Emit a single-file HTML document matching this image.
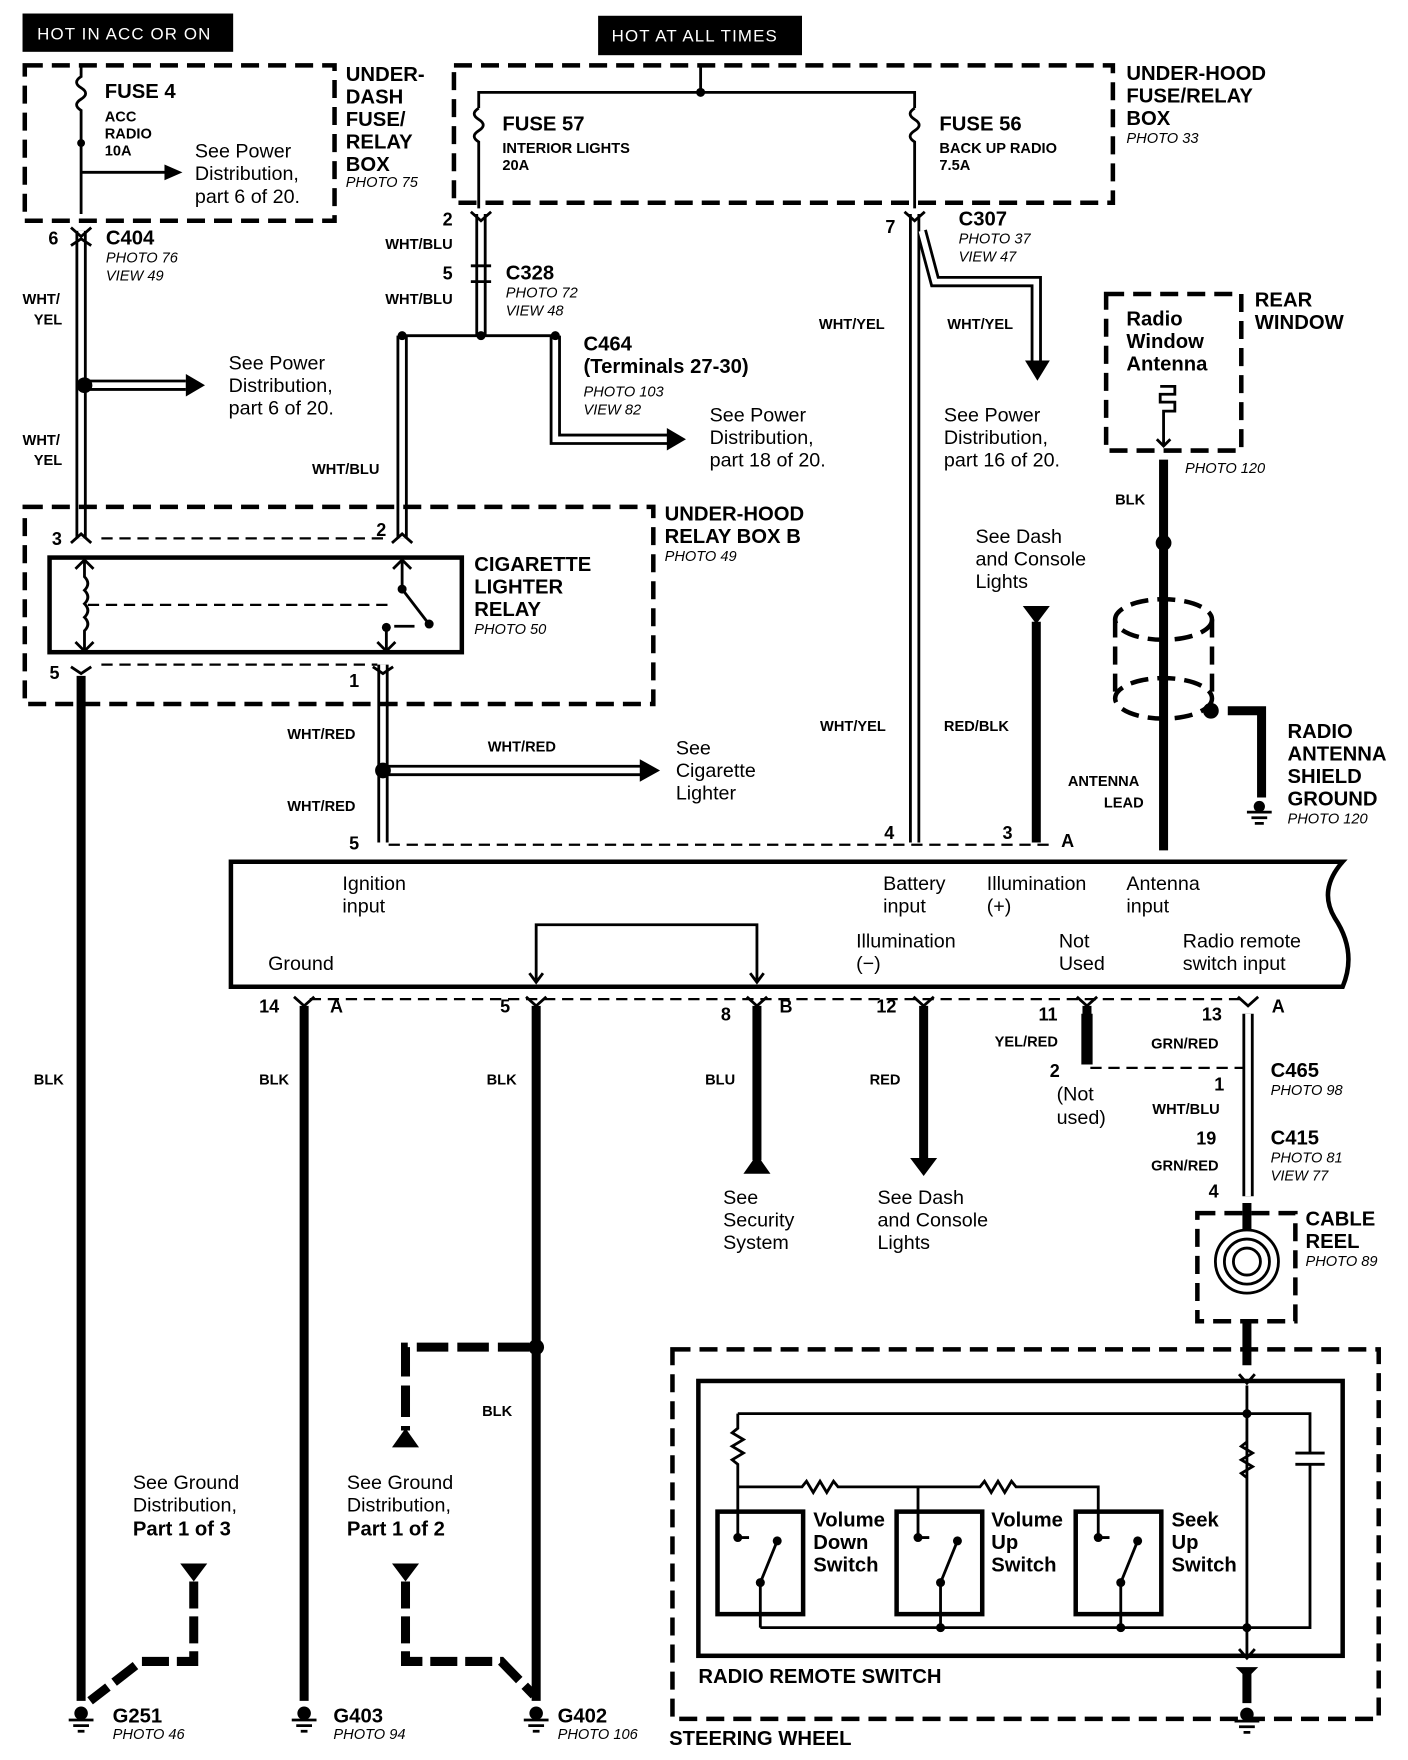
<!DOCTYPE html>
<html><head><meta charset="utf-8"><style>
html,body{margin:0;padding:0;background:#fff;width:1408px;height:1760px;overflow:hidden}
svg{display:block}
text{font-family:"Liberation Sans",sans-serif;fill:#000}
.h{font-weight:bold;font-size:18px}
.s{font-size:17.5px}
.w{font-weight:bold;font-size:13px}
.p{font-style:italic;font-size:13px}
.n{font-weight:bold;font-size:16px}
.sm{font-weight:bold;font-size:13px}
.dash{fill:none;stroke:#000;stroke-width:4;stroke-dasharray:16 8}
.dl{fill:none;stroke:#000;stroke-width:2;stroke-dasharray:10 6}
.wo{fill:none;stroke:#000;stroke-width:10}
.wi{fill:none;stroke:#fff;stroke-width:5}
.tk{fill:none;stroke:#000;stroke-width:8}
.ln{fill:none;stroke:#000;stroke-width:2.5}
.bx{fill:none;stroke:#000;stroke-width:4}
</style></head><body>
<svg width="1408" height="1760" viewBox="0 0 1250 1562.5" xmlns="http://www.w3.org/2000/svg">
<!-- header boxes -->
<rect x="20" y="12" width="187" height="34" fill="#000"/>
<text x="33" y="35" style="fill:#fff;font-size:15px;letter-spacing:1px">HOT IN ACC OR ON</text>
<rect x="531" y="14" width="181" height="35" fill="#000"/>
<text x="543" y="37" style="fill:#fff;font-size:15px;letter-spacing:1px">HOT AT ALL TIMES</text>

<!-- under-dash box -->
<rect x="22" y="58" width="275" height="138" class="dash"/>
<text class="h"><tspan x="307" y="72">UNDER-</tspan><tspan x="307" y="92">DASH</tspan><tspan x="307" y="112">FUSE/</tspan><tspan x="307" y="132">RELAY</tspan><tspan x="307" y="152">BOX</tspan></text>
<text class="p" x="307" y="166">PHOTO 75</text>
<path class="ln" d="M72 58V68 q-8 5 0 10 q8 5 0 10 q-8 5 0 10 V190"/>
<circle cx="72" cy="127" r="3.5"/>
<path class="ln" d="M72 153H148"/><path d="M146 146L162 153L146 160Z"/>
<text class="h" x="93" y="87">FUSE 4</text>
<text class="sm"><tspan x="93" y="108">ACC</tspan><tspan x="93" y="123">RADIO</tspan><tspan x="93" y="138">10A</tspan></text>
<text class="s"><tspan x="173" y="140">See Power</tspan><tspan x="173" y="160">Distribution,</tspan><tspan x="173" y="180">part 6 of 20.</tspan></text>

<!-- under-hood fuse box -->
<rect x="403" y="58" width="585" height="122" class="dash"/>
<path class="ln" d="M622 58V82M425 96V82H812V96"/>
<circle cx="622" cy="82" r="4"/>
<path class="ln" d="M425 96q-8 5 0 10q8 5 0 10q-8 5 0 10V185M812 96q-8 5 0 10q8 5 0 10q-8 5 0 10V185"/>
<text class="h" x="446" y="116">FUSE 57</text>
<text class="sm"><tspan x="446" y="136">INTERIOR LIGHTS</tspan><tspan x="446" y="151">20A</tspan></text>
<text class="h" x="834" y="116">FUSE 56</text>
<text class="sm"><tspan x="834" y="136">BACK UP RADIO</tspan><tspan x="834" y="151">7.5A</tspan></text>
<text class="h"><tspan x="1000" y="71">UNDER-HOOD</tspan><tspan x="1000" y="91">FUSE/RELAY</tspan><tspan x="1000" y="111">BOX</tspan></text>
<text class="p" x="1000" y="127">PHOTO 33</text>

<!-- connectors labels -->
<text class="n" x="43" y="217">6</text>
<text class="h" x="94" y="217">C404</text>
<text class="p"><tspan x="94" y="233">PHOTO 76</tspan><tspan x="94" y="249">VIEW 49</tspan></text>
<text class="n" x="393" y="200">2</text>
<text class="w" x="342" y="221">WHT/BLU</text>
<text class="n" x="393" y="248">5</text>
<text class="h" x="449" y="248">C328</text>
<text class="p"><tspan x="449" y="264">PHOTO 72</tspan><tspan x="449" y="280">VIEW 48</tspan></text>
<text class="w" x="342" y="270">WHT/BLU</text>

<!-- wires double -->
<g>
<path class="wo" d="M72 205V478"/><path class="wo" d="M427 190V298"/>
<path class="wo" d="M357 298V478"/><path class="wo" d="M493 298V390H595"/>
<path class="wo" d="M812 190V748"/><path class="wo" d="M818 205L830 250H920V320"/>
<path class="wo" d="M340 590V748"/><path class="wo" d="M340 684H570"/>
<path class="wo" d="M75 342H165"/>
<path class="wo" d="M1108 900V1062"/>
<path class="wo" d="M965 900V945"/>
</g>
<g>
<path class="wi" d="M72 205V478"/><path class="wi" d="M427 190V298"/>
<path class="wi" d="M357 298V478"/><path class="wi" d="M493 298V390H595"/>
<path class="wi" d="M812 190V748"/><path class="wi" d="M818 205L830 250H920V320"/>
<path class="wi" d="M340 590V748"/><path class="wi" d="M340 684H570"/>
<path class="wi" d="M75 342H165"/>
<path class="wi" d="M1108 900V1062"/>
</g>
<path class="ln" d="M357 298H493"/>
<circle cx="357" cy="298" r="4"/><circle cx="427" cy="298" r="4"/><circle cx="493" cy="298" r="4"/>
<circle cx="75" cy="342" r="7"/><circle cx="340" cy="684" r="7"/>
<path d="M165 332L182 342L165 352Z"/><path d="M592 380L609 390L592 400Z"/><path d="M568 674L586 684L568 694Z"/>
<path d="M910 320L932 320L921 338Z"/>
<!-- connector marks -->
<g class="ln" stroke-width="3">
<path d="M63 202L72 210L81 202M63 218L72 212L81 218"/>
<path d="M418 188L427 196L436 188M803 188L812 196L821 188"/>
<path d="M418 236L436 236M418 250L436 250"/>
</g>

<text class="w"><tspan x="20" y="270">WHT/</tspan><tspan x="30" y="288">YEL</tspan><tspan x="20" y="395">WHT/</tspan><tspan x="30" y="413">YEL</tspan></text>
<text class="s"><tspan x="203" y="328">See Power</tspan><tspan x="203" y="348">Distribution,</tspan><tspan x="203" y="368">part 6 of 20.</tspan></text>
<text class="h" x="518" y="311">C464</text>
<text class="h" x="518" y="331">(Terminals 27-30)</text>
<text class="p"><tspan x="518" y="352">PHOTO 103</tspan><tspan x="518" y="368">VIEW 82</tspan></text>
<text class="s"><tspan x="630" y="374">See Power</tspan><tspan x="630" y="394">Distribution,</tspan><tspan x="630" y="414">part 18 of 20.</tspan></text>
<text class="w" x="277" y="421">WHT/BLU</text>
<text class="n" x="786" y="207">7</text>
<text class="h" x="851" y="200">C307</text>
<text class="p"><tspan x="851" y="216">PHOTO 37</tspan><tspan x="851" y="232">VIEW 47</tspan></text>
<text class="w" x="727" y="292">WHT/YEL</text><text class="w" x="841" y="292">WHT/YEL</text>
<text class="s"><tspan x="838" y="374">See Power</tspan><tspan x="838" y="394">Distribution,</tspan><tspan x="838" y="414">part 16 of 20.</tspan></text>

<!-- relay box B -->
<rect x="22" y="450" width="558" height="175" class="dash"/>
<text class="h"><tspan x="590" y="462">UNDER-HOOD</tspan><tspan x="590" y="482">RELAY BOX B</tspan></text>
<text class="p" x="590" y="498">PHOTO 49</text>
<rect x="44" y="495" width="366" height="84" class="bx"/>
<path class="dl" d="M90 478H340M90 590H335"/>
<text class="h"><tspan x="421" y="507">CIGARETTE</tspan><tspan x="421" y="527">LIGHTER</tspan><tspan x="421" y="547">RELAY</tspan></text>
<text class="p" x="421" y="563">PHOTO 50</text>
<path class="ln" d="M75 497V512q6 6 0 12q6 6 0 12q6 6 0 12q6 6 0 12V577"/>
<path class="ln" d="M67 505L75 497L83 505M67 570L75 578L83 570"/>
<path class="dl" d="M78 537H350"/>
<path class="ln" d="M357 497V523L380 553M343 577V558M349 505L357 497L365 505M335 570L343 578L351 570"/>
<circle cx="357" cy="523" r="4"/><circle cx="381" cy="554" r="4"/><circle cx="343" cy="557" r="4"/>
<path class="ln" d="M350 556H368"/>
<text class="n" x="46" y="484">3</text><text class="n" x="334" y="476">2</text>
<text class="n" x="44" y="603">5</text><text class="n" x="310" y="610">1</text>
<path class="ln" stroke-width="3" d="M63 482L72 474L81 482M348 482L357 474L366 482M63 592L72 598L81 592M331 592L340 598L349 592"/>

<!-- left BLK wire -->
<path class="tk" d="M72 600V1510"/>
<text class="w" x="255" y="656">WHT/RED</text><text class="w" x="433" y="667">WHT/RED</text><text class="w" x="255" y="720">WHT/RED</text>
<text class="s"><tspan x="600" y="670">See</tspan><tspan x="600" y="690">Cigarette</tspan><tspan x="600" y="710">Lighter</tspan></text>
<text class="n" x="310" y="754">5</text>
<text class="w" x="728" y="649">WHT/YEL</text>
<text class="n" x="785" y="745">4</text>

<!-- RED/BLK -->
<path class="tk" d="M920 552V748"/>
<path d="M908 538H932L920 554Z"/>
<text class="s"><tspan x="866" y="482">See Dash</tspan><tspan x="866" y="502">and Console</tspan><tspan x="866" y="522">Lights</tspan></text>
<text class="w" x="838" y="649">RED/BLK</text>
<text class="n" x="890" y="745">3</text><text class="n" x="942" y="752">A</text>
<path class="dl" d="M345 750H935"/>

<!-- rear window antenna -->
<rect x="982" y="261" width="120" height="139" class="dash"/>
<text class="h"><tspan x="1000" y="289">Radio</tspan><tspan x="1000" y="309">Window</tspan><tspan x="1000" y="329">Antenna</tspan></text>
<text class="h"><tspan x="1114" y="272">REAR</tspan><tspan x="1114" y="292">WINDOW</tspan></text>
<path class="ln" d="M1033 395V365H1043V357H1030V350H1043V343H1030"/>
<path class="ln" d="M1027 390L1033 396L1039 390"/>
<text class="p" x="1052" y="420">PHOTO 120</text>
<path class="tk" d="M1033 408V755"/>
<text class="w" x="990" y="448">BLK</text>
<circle cx="1033" cy="482" r="7"/>
<ellipse cx="1033" cy="550" rx="43" ry="18" class="dash" stroke-width="3"/>
<ellipse cx="1033" cy="620" rx="43" ry="18" class="dash" stroke-width="3"/>
<path class="dash" stroke-width="3" d="M990 550V620M1076 550V620"/>
<circle cx="1075" cy="631" r="7"/>
<path class="tk" d="M1090 631H1120V708"/>
<g stroke="#000" stroke-width="2.5"><path d="M1107 721H1129M1111 726H1125M1114 731H1122"/></g>
<circle cx="1118" cy="716" r="5"/>
<text class="h"><tspan x="1143" y="655">RADIO</tspan><tspan x="1143" y="675">ANTENNA</tspan><tspan x="1143" y="695">SHIELD</tspan><tspan x="1143" y="715">GROUND</tspan></text>
<text class="p" x="1143" y="731">PHOTO 120</text>
<text class="w"><tspan x="948" y="698">ANTENNA</tspan><tspan x="980" y="717">LEAD</tspan></text>

<!-- radio box -->
<path class="bx" d="M205 765H1192Q1170 790 1185 815Q1205 845 1192 876H205Z"/>
<text class="s"><tspan x="304" y="790">Ignition</tspan><tspan x="304" y="810">input</tspan>
<tspan x="784" y="790">Battery</tspan><tspan x="784" y="810">input</tspan>
<tspan x="876" y="790">Illumination</tspan><tspan x="876" y="810">(+)</tspan>
<tspan x="1000" y="790">Antenna</tspan><tspan x="1000" y="810">input</tspan>
<tspan x="238" y="861">Ground</tspan>
<tspan x="760" y="841">Illumination</tspan><tspan x="760" y="861">(−)</tspan>
<tspan x="940" y="841">Not</tspan><tspan x="940" y="861">Used</tspan>
<tspan x="1050" y="841">Radio remote</tspan><tspan x="1050" y="861">switch input</tspan></text>
<path class="ln" d="M476 872V821H672V872M470 864L476 872L482 864M666 864L672 872L678 864"/>

<!-- bottom terminals -->
<path class="dl" d="M275 887H1105"/>
<text class="n" x="230" y="899">14</text><text class="n" x="293" y="899">A</text>
<text class="n" x="444" y="899">5</text>
<text class="n" x="640" y="906">8</text><text class="n" x="692" y="899">B</text>
<text class="n" x="778" y="899">12</text>
<text class="n" x="922" y="906">11</text>
<text class="n" x="1067" y="906">13</text><text class="n" x="1129" y="899">A</text>
<path class="tk" d="M270 893V1510M476 893V1510M672 893V1030M820 893V1030"/>
<path class="tk" d="M965 893V945"/>
<path class="ln" stroke-width="3" d="M261 885L270 893L279 885M467 885L476 893L485 885M663 885L672 893L681 885M811 885L820 893L829 885M956 885L965 893L974 885M1099 885L1108 893L1117 885"/>
<text class="w" x="30" y="963">BLK</text><text class="w" x="230" y="963">BLK</text><text class="w" x="432" y="963">BLK</text>
<text class="w" x="626" y="963">BLU</text><text class="w" x="772" y="963">RED</text>
<path d="M660 1042L672 1025L684 1042Z"/><path d="M808 1028H832L820 1044Z"/>
<text class="s"><tspan x="642" y="1069">See</tspan><tspan x="642" y="1089">Security</tspan><tspan x="642" y="1109">System</tspan>
<tspan x="779" y="1069">See Dash</tspan><tspan x="779" y="1089">and Console</tspan><tspan x="779" y="1109">Lights</tspan></text>
<text class="w" x="883" y="929">YEL/RED</text>
<text class="n" x="932" y="956">2</text>
<text class="s"><tspan x="938" y="977">(Not</tspan><tspan x="938" y="998">used)</tspan></text>
<path class="dl" d="M968 948H1105"/>
<text class="w" x="1022" y="931">GRN/RED</text>
<text class="h" x="1128" y="956">C465</text><text class="p" x="1128" y="972">PHOTO 98</text>
<text class="n" x="1078" y="968">1</text>
<text class="w" x="1023" y="989">WHT/BLU</text>
<text class="n" x="1062" y="1016">19</text>
<text class="h" x="1128" y="1016">C415</text>
<text class="p"><tspan x="1128" y="1032">PHOTO 81</tspan><tspan x="1128" y="1048">VIEW 77</tspan></text>
<text class="w" x="1022" y="1039">GRN/RED</text>
<text class="n" x="1073" y="1063">4</text>

<!-- cable reel -->
<rect x="1063" y="1077" width="87" height="96" class="dash" stroke-width="3"/>
<circle cx="1107" cy="1120" r="28" class="ln"/><circle cx="1107" cy="1120" r="20" class="ln"/><circle cx="1107" cy="1120" r="12" class="ln"/>
<path class="tk" d="M1107 1068V1092M1107 1173V1212"/>
<text class="h"><tspan x="1159" y="1088">CABLE</tspan><tspan x="1159" y="1108">REEL</tspan></text>
<text class="p" x="1159" y="1124">PHOTO 89</text>

<!-- G402 branch -->
<circle cx="476" cy="1196" r="7"/>
<path class="tk" stroke-dasharray="28 8" d="M470 1196H360V1270"/>
<path d="M348 1285L360 1268L372 1285Z"/>
<text class="w" x="428" y="1257">BLK</text>
<text class="s"><tspan x="308" y="1322">See Ground</tspan><tspan x="308" y="1342">Distribution,</tspan></text>
<text class="h" x="308" y="1363">Part 1 of 2</text>
<path d="M348 1388H372L360 1404Z"/>
<path class="tk" stroke-dasharray="24 7" d="M360 1404V1475H445L474 1505"/>
<text class="s"><tspan x="118" y="1322">See Ground</tspan><tspan x="118" y="1342">Distribution,</tspan></text>
<text class="h" x="118" y="1363">Part 1 of 3</text>
<path d="M160 1388H184L172 1404Z"/>
<path class="tk" stroke-dasharray="24 7" d="M172 1404V1475H125L80 1510"/>

<!-- grounds -->
<g>
<circle cx="72" cy="1521" r="6"/><path stroke="#000" stroke-width="2.5" d="M61 1527H83M65 1532H79M69 1537H75"/>
<circle cx="270" cy="1521" r="6"/><path stroke="#000" stroke-width="2.5" d="M259 1527H281M263 1532H277M267 1537H273"/>
<circle cx="476" cy="1521" r="6"/><path stroke="#000" stroke-width="2.5" d="M465 1527H487M469 1532H483M473 1537H479"/>
<circle cx="1107" cy="1522" r="6"/><path stroke="#000" stroke-width="2.5" d="M1096 1528H1118M1100 1533H1114M1104 1538H1110"/>
</g>
<text class="h" x="100" y="1529">G251</text><text class="p" x="100" y="1544">PHOTO 46</text>
<text class="h" x="296" y="1529">G403</text><text class="p" x="296" y="1544">PHOTO 94</text>
<text class="h" x="495" y="1529">G402</text><text class="p" x="495" y="1544">PHOTO 106</text>

<!-- steering wheel -->
<rect x="597" y="1198" width="627" height="328" class="dash"/>
<rect x="620" y="1226" width="572" height="244" class="bx"/>
<text class="h" x="620" y="1494">RADIO REMOTE SWITCH</text>
<text class="h" x="594" y="1549">STEERING WHEEL</text>
<path class="tk" d="M1107 1482V1512"/><path d="M1097 1480H1117L1107 1490Z"/>
<path class="ln" d="M1100 1220L1107 1228L1114 1220M1100 1464L1107 1472L1114 1464M1107 1230V1470"/>
<path class="ln" d="M655 1255H1163V1290M1163 1300V1445H675"/>
<path class="ln" d="M1150 1290H1176M1150 1300H1176"/>
<path class="ln" d="M655 1255V1268l-5 4l10 6l-10 6l10 6l-10 6l5 4V1365"/>
<path class="ln" d="M1107 1280l-5 4l10 6l-10 6l10 6l-10 6l5 4"/>
<path class="ln" d="M655 1320H712l4 -5l6 10l6-10l6 10l6-10l4 5H870l4-5l6 10l6-10l6 10l6-10l4 5H975V1365M815 1320V1365"/>
<circle cx="1107" cy="1255" r="4"/><circle cx="1107" cy="1445" r="4"/>
<rect x="637" y="1342" width="76" height="91" class="bx"/>
<rect x="796" y="1342" width="76" height="91" class="bx"/>
<rect x="955" y="1342" width="76" height="91" class="bx"/>
<g class="ln">
<path d="M655 1365H665M690 1368L675 1405V1445"/>
<path d="M815 1365H825M850 1368L835 1405V1445"/>
<path d="M975 1365H985M1010 1368L995 1405V1445"/>
</g>
<circle cx="655" cy="1365" r="4"/><circle cx="690" cy="1368" r="4"/><circle cx="675" cy="1405" r="4"/>
<circle cx="815" cy="1365" r="4"/><circle cx="850" cy="1368" r="4"/><circle cx="835" cy="1405" r="4"/><circle cx="835" cy="1445" r="4"/>
<circle cx="975" cy="1365" r="4"/><circle cx="1010" cy="1368" r="4"/><circle cx="995" cy="1405" r="4"/><circle cx="995" cy="1445" r="4"/>
<text class="h"><tspan x="722" y="1355">Volume</tspan><tspan x="722" y="1375">Down</tspan><tspan x="722" y="1395">Switch</tspan>
<tspan x="880" y="1355">Volume</tspan><tspan x="880" y="1375">Up</tspan><tspan x="880" y="1395">Switch</tspan>
<tspan x="1040" y="1355">Seek</tspan><tspan x="1040" y="1375">Up</tspan><tspan x="1040" y="1395">Switch</tspan></text>
</svg>
</body></html>
